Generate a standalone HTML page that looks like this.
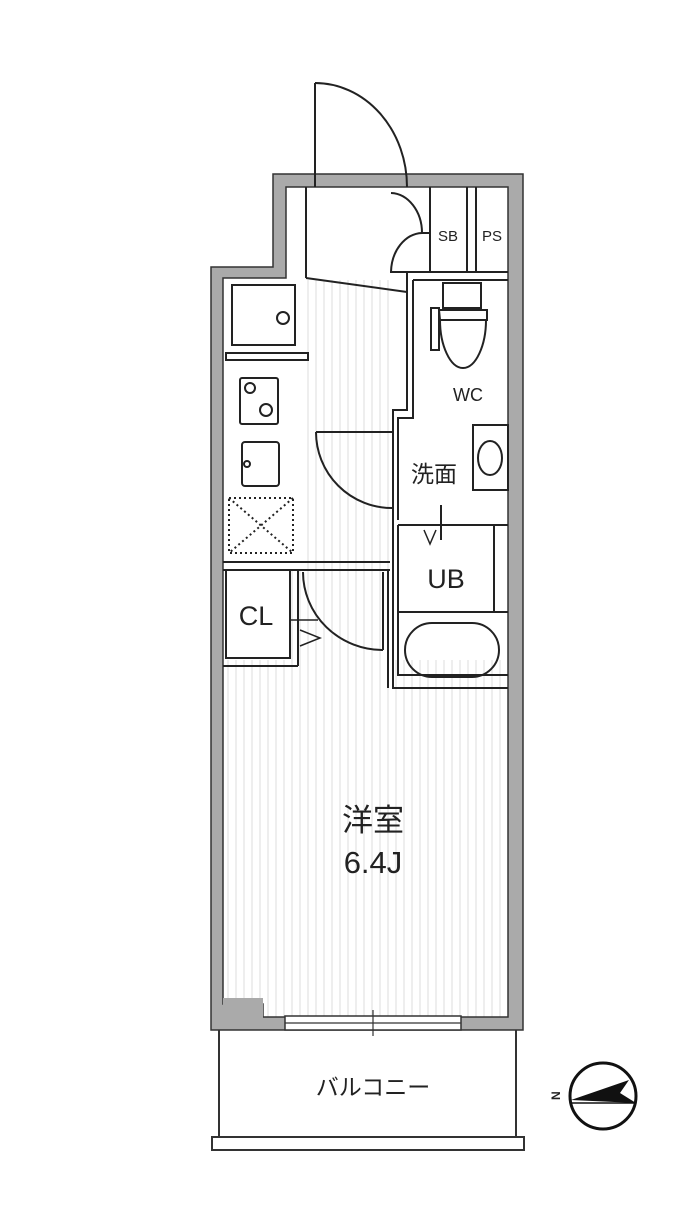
<!DOCTYPE html>
<html><head><meta charset="utf-8"><style>
html,body{margin:0;padding:0;background:#fff}
svg{display:block}
text{font-family:"Liberation Sans","Noto Sans CJK JP",sans-serif;fill:#222}
</style></head><body>
<svg width="700" height="1230" viewBox="0 0 700 1230" xmlns="http://www.w3.org/2000/svg">
<defs>
<pattern id="h" width="8" height="10" patternUnits="userSpaceOnUse"><line x1="4" y1="0" x2="4" y2="10" stroke="#ddd" stroke-width="1"/></pattern>
</defs>
<rect x="306" y="280" width="88" height="290" fill="url(#h)"/>
<rect x="224" y="660" width="285" height="358" fill="url(#h)"/>
<rect x="290" y="570" width="100" height="100" fill="url(#h)"/>
<path d="M273 174 H523 V1030 H211 V267 H273 Z M286 187 V278 H223 V1004 H263 V1017 H508 V187 Z" fill="#aaa" fill-rule="evenodd" stroke="#333" stroke-width="1.5"/>
<rect x="223" y="998" width="40" height="20" fill="#aaa"/>
<rect x="285" y="1016" width="176" height="14" fill="#fff" stroke="#333" stroke-width="1.5"/>
<line x1="285" y1="1023" x2="461" y2="1023" stroke="#333" stroke-width="1.2"/>
<line x1="373" y1="1010" x2="373" y2="1036" stroke="#333" stroke-width="1.2"/>
<g fill="none" stroke="#222" stroke-width="2">
<line x1="315" y1="83" x2="315" y2="187"/>
<path d="M315 83 A92 104 0 0 1 407 187"/>
<line x1="306" y1="187" x2="306" y2="278"/>
<line x1="306" y1="278" x2="407" y2="292"/>
<line x1="407" y1="272" x2="407" y2="292"/>
<path d="M391 193 A32 40 0 0 1 422 233"/>
<path d="M391 272 A32 40 0 0 1 422 233"/>
<line x1="422" y1="233" x2="430" y2="233"/>
<line x1="430" y1="187" x2="430" y2="272"/>
<line x1="467" y1="187" x2="467" y2="272"/>
<line x1="476" y1="187" x2="476" y2="272"/>
<line x1="390" y1="272" x2="508" y2="272"/>
<path d="M413 280 H508 M413 280 V418 H398 V520"/>
<path d="M407 292 V410 H393 V520"/>
<rect x="443" y="283" width="38" height="25"/>
<rect x="431" y="308" width="8" height="42"/>
<path d="M439 310 H487 V320 H440 Z"/>
<path d="M440 320 C440 345 450 368 463 368 C476 368 486 345 486 320"/>
<rect x="473" y="425" width="35" height="65"/>
<ellipse cx="490" cy="458" rx="12" ry="17"/>
<path d="M316 432 H392 M316 432 A76 76 0 0 0 392 508"/>
<path d="M393 520 V688 H508 M398 525 H508 M398 525 V675 H508"/>
<line x1="494" y1="525" x2="494" y2="612"/>
<line x1="398" y1="612" x2="508" y2="612"/>
<rect x="405" y="623" width="94" height="54" rx="27"/>
<line x1="441" y1="505" x2="441" y2="540"/>
<path d="M424 530 L430 544 L436 530" stroke-width="1.5"/>
<rect x="232" y="285" width="63" height="60"/>
<circle cx="283" cy="318" r="6"/>
<rect x="226" y="353" width="82" height="7"/>
<rect x="240" y="378" width="38" height="46" rx="2"/>
<circle cx="250" cy="388" r="5"/><circle cx="266" cy="410" r="6"/>
<rect x="242" y="442" width="37" height="44" rx="3"/>
<circle cx="247" cy="464" r="3"/>
<g stroke-dasharray="2 3" stroke-width="2"><rect x="229" y="498" width="64" height="55"/><line x1="229" y1="498" x2="293" y2="553"/><line x1="293" y1="498" x2="229" y2="553"/></g>
<line x1="223" y1="562" x2="390" y2="562"/>
<line x1="223" y1="570" x2="390" y2="570"/>
<path d="M226 571 V658 H290 V571"/>
<line x1="223" y1="666" x2="298" y2="666"/>
<line x1="298" y1="570" x2="298" y2="666"/>
<line x1="290" y1="620" x2="318" y2="620" stroke-width="1.5"/>
<path d="M300 630 L320 638 L300 646" stroke-width="1.5"/>
<path d="M303 572 A80 78 0 0 0 383 650"/>
<line x1="383" y1="572" x2="383" y2="650"/>
<line x1="388" y1="570" x2="388" y2="688"/>
</g>
<g fill="none" stroke="#333" stroke-width="2">
<line x1="219" y1="1030" x2="219" y2="1137"/>
<line x1="516" y1="1030" x2="516" y2="1137"/>
<rect x="212" y="1137" width="312" height="13" fill="#fff"/>
</g>
<g stroke="#111" stroke-width="3" fill="none">
<circle cx="603" cy="1096" r="33"/>
<line x1="570" y1="1103" x2="636" y2="1103" stroke-width="1.5"/>
</g>
<path d="M571 1100 L629 1080 L620 1093 L636 1103 Z" fill="#111"/>
<text x="556" y="1104" font-size="12" font-weight="bold" transform="rotate(-90 556 1100)">N</text>
<text x="448" y="241" font-size="15" text-anchor="middle">SB</text>
<text x="492" y="241" font-size="15" text-anchor="middle">PS</text>
<text x="468" y="401" font-size="18" text-anchor="middle">WC</text>
<text x="434" y="482" font-size="23" text-anchor="middle">洗面</text>
<text x="446" y="588" font-size="27" text-anchor="middle">UB</text>
<text x="256" y="625" font-size="27" text-anchor="middle">CL</text>
<text x="373" y="831" font-size="31" text-anchor="middle">洋室</text>
<text x="373" y="873" font-size="31" text-anchor="middle">6.4J</text>
<text x="373" y="1095" font-size="23" text-anchor="middle">バルコニー</text>
</svg>
</body></html>
